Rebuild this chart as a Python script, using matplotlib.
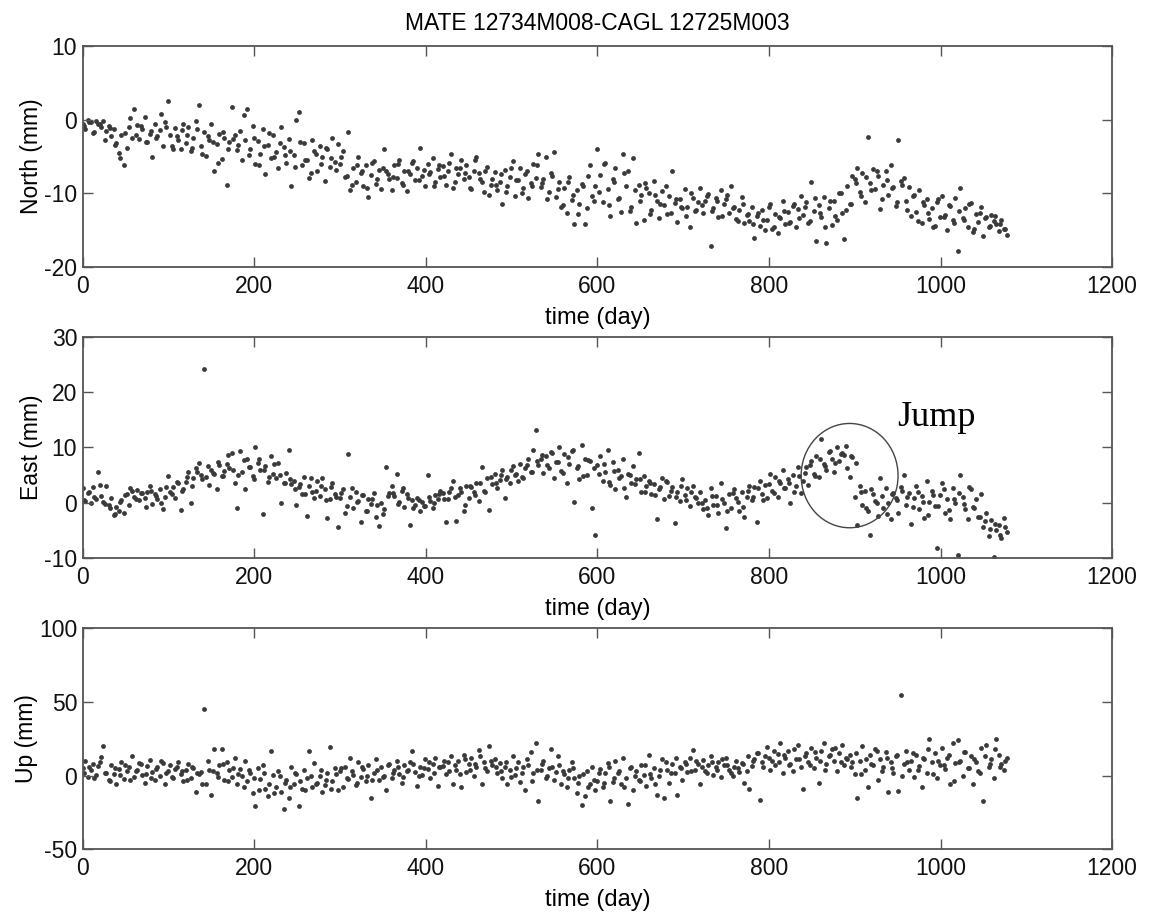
import numpy as np
import matplotlib
matplotlib.use("Agg")
import matplotlib.pyplot as plt
from matplotlib.patches import Ellipse

plt.rcParams['font.family'] = ['Liberation Sans', 'DejaVu Sans']
plt.rcParams['axes.unicode_minus'] = False

# samples: main set every 3 days, extra set every 6 days in between
days = np.arange(0, 1080, 3)
days_b = np.arange(1.5, 1080, 6)

north = [
    -0.5, -1.2, 0.0, -0.3, -1.8, -0.2, -0.6, -1.0, -0.1, -1.5, -0.8, -2.2, -1.3, -3.1, -4.5, -2.0, -6.2, -3.8, -1.0, -2.4,
    1.5, -0.7, -2.6, -1.2, 0.4, -3.0, -1.9, -5.0, -0.5, -2.2, -1.4, -3.5, -0.3, 2.5, -2.0, -3.9, -1.1, -2.8, -4.0, -0.6,
    -3.2, -1.0, -4.3, -2.5, -0.2, 2.0, -3.6, -1.7, -4.9, -2.8, -0.5, -7.0, -3.3, -1.9, -5.3, -2.4, -8.8, -3.0, 1.8, -2.1,
    -4.1, -1.5, -5.4, -2.7, 1.5, -3.9, -0.8, -6.0, -2.9, -4.6, -1.3, -7.4, -3.4, -5.2, -2.0, -4.4, -6.6, -1.0, -3.7, -5.8,
    -2.6, -9.0, -4.8, 0.0, 1.0, -6.2, -3.1, -5.5, -7.9, -2.8, -4.3, -6.9, -3.6, -5.0, -8.3, -4.0, -6.4, -2.4, -5.7, -3.3,
    -6.0, -4.2, -7.8, -1.6, -9.6, -6.5, -8.4, -5.1, -7.2, -9.0, -6.1, -10.5, -7.5, -5.6, -8.7, -6.8, -9.4, -4.0, -7.0, -8.1,
    -9.5, -6.2, -7.9, -5.4, -8.6, -6.9, -9.7, -7.3, -5.8, -8.2, -6.5, -3.8, -7.6, -9.0, -6.0, -7.1, -5.2, -8.4, -6.7, -7.7,
    -6.3, -8.8, -7.0, -4.6, -9.2, -6.6, -7.4, -5.5, -8.0, -6.1, -7.8, -9.4, -6.9, -5.0, -7.2, -8.5, -9.8, -6.4, -10.2, -8.0,
    -7.1, -9.6, -8.4, -11.5, -6.8, -9.0, -7.7, -5.6, -10.4, -8.2, -6.5, -9.3, -7.4, -10.6, -8.6, -6.0, -7.9, -4.6, -9.1, -8.0,
    -5.0, -9.8, -7.2, -4.4, -10.5, -8.5, -11.8, -9.2, -12.6, -7.8, -10.9, -14.2, -9.6, -11.4, -8.7, -14.1, -12.0, -6.2, -10.3, -9.0,
    -4.0, -7.5, -11.2, -5.8, -9.4, -13.0, -8.1, -6.5, -10.7, -12.5, -4.6, -9.0, -7.0, -11.8, -5.2, -14.0, -8.8, -10.2, -13.6, -9.3,
    -10.0, -12.2, -8.3, -11.0, -13.4, -9.7, -11.6, -12.8, -10.4, -7.0, -11.3, -13.9, -10.8, -12.0, -9.4, -11.9, -14.6, -10.6, -12.4, -11.1,
    -9.3, -12.7, -11.0, -10.1, -17.1, -12.0, -10.6, -13.2, -9.6, -11.4, -10.8, -12.6, -9.0, -11.9, -13.5, -12.2, -10.5, -14.0, -12.9, -13.7,
    -11.8, -16.0, -13.0, -14.4, -12.3, -15.0, -13.6, -11.5, -14.8, -12.8, -15.4, -13.3, -11.0, -14.1, -12.5, -13.9, -11.7, -14.6, -12.1, -10.4,
    -12.9, -11.2, -14.0, -8.5, -12.4, -16.4, -11.6, -13.2, -10.5, -16.8, -12.0, -14.3, -11.0, -13.6, -10.0, -12.7, -16.2, -9.0, -11.5, -7.6,
    -8.0, -6.5, -9.8, -7.2, -11.1, -2.3, -8.6, -6.7, -9.4, -7.6, -12.1, -8.9, -7.0, -10.2, -6.1, -9.1, -11.7, -2.8, -8.3, -7.9,
    -11.0, -9.1, -13.0, -10.2, -12.5, -9.6, -14.0, -11.6, -10.8, -13.5, -12.0, -14.4, -11.1, -13.2, -10.4, -12.9, -15.0, -11.7, -13.6, -10.6,
    -17.8, -9.3, -13.4, -12.0, -14.6, -11.3, -15.2, -12.8, -13.9, -11.8, -15.8, -13.2, -14.5, -12.9, -13.7, -14.2, -15.1, -13.6, -14.8, -15.6,
]
north_b = [
    -0.8, -0.3, -1.6, -0.6, -2.8, -1.1, -3.4, -5.2, -1.8, 0.2, -2.0, -0.9, -3.0, -1.5, -2.4, 0.8, -1.0, -3.6, -2.2, -1.4,
    -2.0, -3.8, -1.2, -4.6, -2.2, -3.0, -5.8, -1.6, -4.0, -2.6, -3.4, 0.6, -4.8, -2.4, -6.2, -3.6, -1.8, -5.0, -3.2, -4.8,
    -4.2, -6.4, -3.0, -5.4, -7.2, -4.6, -6.0, -3.8, -5.2, -6.8, -5.0, -7.6, -8.8, -6.2, -7.0, -9.2, -5.8, -8.0, -6.6, -7.4,
    -7.8, -6.0, -8.8, -7.0, -5.6, -8.2, -6.8, -7.4, -9.0, -6.2, -7.6, -5.8, -8.4, -6.6, -7.2, -9.2, -5.4, -8.0, -7.0, -8.8,
    -8.8, -7.4, -9.8, -6.6, -8.2, -10.0, -7.0, -9.0, -6.2, -8.6, -10.8, -7.6, -9.4, -11.6, -8.4, -10.2, -12.8, -9.0, -7.6, -11.0,
    -9.8, -6.0, -11.6, -8.4, -10.6, -7.2, -12.4, -9.6, -11.0, -8.6, -12.8, -10.2, -11.4, -9.0, -12.6, -10.8, -11.8, -13.0, -10.0, -12.2,
    -11.6, -10.4, -12.4, -11.0, -13.0, -10.2, -12.0, -13.8, -11.4, -12.8, -14.2, -12.6, -13.6, -11.8, -14.6, -13.2, -12.4, -14.0, -11.4, -13.4,
    -11.8, -13.8, -10.6, -12.6, -14.6, -11.0, -13.0, -10.0, -12.2, -11.4, -8.6, -10.4, -7.8, -9.6, -7.0, -10.8, -8.2, -9.2, -11.2, -8.8,
    -12.2, -10.4, -13.8, -11.2, -12.6, -14.6, -10.8, -13.2, -11.6, -14.0, -12.4, -13.6, -11.4, -14.8, -12.6, -13.4, -14.4, -13.0, -14.2, -14.8,
]

east = [
    2.6, 0.3, 1.8, 0.0, 2.9, 0.7, 5.6, 1.2, 0.2, 3.0, -0.5, 0.8, -2.2, -0.8, -1.5, 0.5, -1.9, 1.6, -0.4, 2.2,
    1.0, 2.3, 0.4, 1.7, 0.8, 2.0, 3.1, -0.3, 1.5, 0.6, 2.5, -1.2, 1.1, 4.9, 1.9, 2.8, 0.9, 3.6, -1.3, 2.4,
    3.8, 5.5, 0.0, 4.4, 6.3, 7.2, 5.0, 24.2, 4.6, 3.2, 6.0, 5.2, 2.4, 6.8, 4.9, 5.8, 7.0, 6.2, 9.0, 3.5,
    -1.0, 9.3, 5.6, 2.5, 8.0, 6.5, 4.8, 10.0, 7.2, 5.9, -2.0, 6.7, 3.7, 8.5, 5.2, 4.4, 7.1, 0.0, 3.6, 5.3,
    9.5, 3.3, 4.0, -0.5, 2.8, 1.5, 4.7, -2.5, 3.0, 2.0, 0.8, 3.9, 1.2, 4.5, 2.4, -2.8, 0.6, 3.5, 1.6, -4.5,
    0.8, 2.4, -1.8, 8.9, 1.1, -0.9, 2.0, 0.3, -3.5, 1.4, -1.5, 0.6, -0.2, 1.8, -2.6, -4.3, 0.0, -1.1, 6.5, 1.7,
    3.0, 1.2, 5.2, 0.2, 2.2, -0.8, 1.5, -4.0, 0.4, -0.5, 0.9, -1.6, 0.1, -0.6, 5.0, 0.3, -1.0, 1.3, 0.7, 2.2,
    1.8, -3.5, 0.6, 2.6, 4.0, -3.3, 1.4, 2.0, -1.6, 3.1, 0.8, 2.8, 1.9, 3.6, 0.3, 6.4, 2.2, 4.5, -1.3, 3.4,
    5.2, 2.6, 4.1, 6.0, 0.9, 4.7, 3.5, 6.6, 5.0, 3.9, 7.0, 4.4, 6.2, 8.0, 5.6, 9.6, 13.2, 6.8, 7.9, 5.4,
    8.5, 6.2, 9.2, 4.5, 7.4, 10.0, 5.8, 8.8, 3.6, 7.0, 9.4, 0.2, 6.3, 4.2, 10.5, 8.0, 5.0, 7.6, -1.0, -5.8,
    6.8, 8.5, 4.0, 5.6, 9.5, 3.2, 7.3, 2.4, 6.0, 4.8, 8.0, 1.0, 5.2, 3.6, 6.6, 4.2, 9.0, 2.0, 4.8, 3.0,
    4.0, 1.6, 3.3, -3.0, 2.4, 4.5, 0.6, 3.8, 1.2, 2.8, -3.6, 2.0, 0.3, 4.2, 1.4, 2.6, -0.6, 3.1, 1.0, 0.0,
    1.9, -1.2, 0.5, -2.2, 2.6, -0.5, 1.2, -1.8, 3.5, 0.0, -4.6, 1.6, -0.9, 2.4, 0.8, -1.5, 2.0, -2.6, 1.0, 3.0,
    0.4, 2.8, -3.5, 4.0, 1.6, 3.2, 0.8, 5.2, 2.2, 4.6, 1.0, 3.6, 6.0, 2.6, 4.2, 0.0, 5.0, 3.0, 6.5, 1.8,
    4.0, 6.4, 3.2, 7.6, 5.2, 8.5, 4.6, 11.5, 7.0, 6.0, 9.2, 8.0, 5.6, 10.0, 7.6, 9.0, 8.6, 6.2, 4.6, 8.2,
    1.0, -4.0, 3.0, -0.5, 2.2, -1.5, -5.8, 1.6, 0.3, -2.4, 4.5, -0.9, 2.6, 0.0, -3.0, 1.8, 0.8, -1.8, 2.8, 5.0,
    -0.4, 1.8, -3.8, 0.9, 3.0, -1.2, 1.2, -2.8, 4.0, 0.2, 2.2, -0.6, -8.2, 1.4, 3.5, -1.8, 0.6, -3.0, 2.6, 0.0,
    -9.4, 5.0, 1.0, -1.2, -3.0, 2.4, -0.8, 0.6, -2.6, 1.6, -4.5, -1.8, -6.0, -3.2, -9.8, -5.0, -4.0, -6.4, -2.8, -5.4,
]
east_b = [
    0.5, 2.0, 1.0, 3.2, -0.2, -1.0, -2.0, 0.2, 1.4, 2.6, 0.6, 1.8, -0.8, 2.2, 1.2, 0.0, 2.8, 1.6, 3.8, 2.2,
    4.6, 3.0, 5.6, 4.2, 6.6, 5.4, 7.4, 4.8, 8.6, 6.0, 5.0, 7.8, 6.4, 4.2, 8.0, 6.0, 4.6, 7.0, 5.0, 3.6,
    4.2, 2.4, 3.4, 1.6, 4.4, 2.2, 3.0, 0.4, 2.8, 1.0, 1.8, -0.6, 2.6, 0.2, 1.4, -1.6, 0.6, -0.4, -2.0, 1.2,
    1.8, -0.2, 2.6, 0.8, -1.0, 0.4, -0.6, 1.0, 0.0, 1.6, 0.6, 2.0, 1.0, 2.6, -0.4, 3.0, 1.4, 3.6, 2.0, 4.6,
    3.6, 5.0, 4.2, 6.0, 5.2, 4.6, 6.8, 5.6, 7.6, 8.6, 6.8, 9.0, 7.4, 5.4, 8.2, 9.6, 6.6, 4.8, 7.8, 6.2,
    5.2, 7.0, 3.8, 5.8, 4.4, 2.6, 5.0, 3.4, 4.2, 2.0, 3.6, 1.4, 2.8, 4.0, 2.2, 1.0, 3.0, 0.4, 2.0, 0.8,
    0.0, -1.0, 1.2, -0.4, 0.6, -1.6, 1.8, 0.2, -0.8, 2.2, 1.0, 2.6, 0.4, 3.4, 1.8, 4.0, 2.6, 3.6, 2.0, 4.8,
    5.4, 6.8, 4.8, 8.0, 6.6, 9.4, 7.2, 8.8, 10.2, 8.4, 7.2, 2.0, -1.0, 2.4, 0.0, 1.2, -2.0, 1.6, 0.4, 2.2,
    1.0, -0.8, 2.0, 0.2, -2.2, 1.4, -0.6, 2.4, -1.4, 0.6, 1.8, -0.2, 2.8, -1.0, -2.6, -3.4, -4.8, -3.8, -5.8, -4.4,
]

up = [
    5.0, 10.2, -1.0, 3.5, 8.0, 0.2, 6.6, 12.6, 20.0, 2.0, -3.0, 7.4, 1.0, -5.5, 4.2, 9.0, -2.2, 3.0, 6.0, 13.5,
    -1.0, 4.0, 8.5, 0.5, -5.0, 6.4, 10.5, 2.5, -2.8, 5.5, 0.0, 8.6, -6.0, 3.2, 7.0, -1.6, 4.6, 9.5, 0.8, -4.0,
    3.5, 7.6, -2.0, 5.0, -11.0, 0.8, 2.2, 45.0, -5.5, 4.0, -13.0, 18.0, 1.5, 7.5, 18.2, -3.0, 9.0, 3.6, -1.0, 12.0,
    -6.0, 4.5, 0.0, 10.0, -4.0, 2.0, -12.0, -20.5, 5.0, -2.5, 7.5, -9.0, -14.0, 16.5, 0.5, -7.5, 3.0, -11.5, -23.0, -3.0,
    -15.0, 6.0, -6.0, 1.0, -20.5, -9.0, 4.0, -2.0, 16.8, -8.0, 8.5, -5.0, 0.0, -11.0, -6.5, 2.0, 19.5, -3.5, 5.0, -10.0,
    3.0, -8.0, 6.0, -2.5, 12.0, 0.5, -6.5, 9.0, -1.0, 4.5, -4.0, 7.0, -15.5, 2.0, 11.0, -3.0, 5.5, 0.0, -10.0, 8.0,
    -2.0, 4.0, 10.0, 1.0, -5.0, 7.0, 3.0, 9.5, 17.0, 2.5, -7.0, 6.0, 0.5, 11.5, 4.5, -1.5, 8.0, 12.0, -7.0, 5.5,
    6.5, 1.0, 9.0, 13.0, -6.0, 4.0, 10.0, -7.5, 14.0, 2.5, 8.0, 12.0, 0.0, 5.5, 17.5, -6.0, 9.5, 3.0, 20.0, 7.0,
    11.0, 2.0, 8.5, -2.0, 6.0, -6.0, 4.0, 13.0, 0.5, 9.0, -4.5, 5.5, -10.0, 7.0, 16.0, 2.0, 22.0, -17.0, 3.5, 10.0,
    -1.5, 5.0, 18.0, -3.0, 2.5, 7.5, -5.5, 1.0, -8.0, 4.0, 9.0, -2.0, -12.0, 0.0, -20.0, -14.0, 3.0, -6.0, 6.0, -9.5,
    -3.5, 4.5, -8.0, 1.5, 8.5, -17.0, -4.5, 10.0, 2.0, -6.0, 12.0, -1.5, -19.0, 5.5, -9.5, 3.0, -3.0, 7.0, 0.5, -7.0,
    14.0, -2.0, 5.0, -13.0, 0.0, 11.0, -15.0, 3.5, -5.0, 8.0, 1.5, -13.5, 6.0, -3.0, 9.5, 2.5, 12.0, 17.5, 4.0, 8.0,
    -6.0, 10.5, 3.0, 7.0, 13.0, 0.5, 5.5, 9.0, -1.0, 7.5, 12.0, 4.0, 1.5, 6.0, 10.0, 2.5, 8.5, -5.0, 3.0, -9.0,
    6.5, 11.0, 15.0, -16.5, 9.5, 13.0, 19.5, 4.0, 10.0, 7.0, 14.5, 22.0, 1.5, 12.0, 17.0, 8.0, 3.0, 11.5, 21.0, 6.0,
    -9.0, 15.0, 9.0, 19.0, 5.0, 12.0, -5.0, 16.5, 22.0, 8.0, 13.5, 18.0, 10.0, 3.0, 15.0, 20.5, 7.0, 11.0, 14.0, 9.5,
    1.0, -15.0, 10.0, 20.0, 4.0, -8.0, 14.0, 7.0, 18.0, -3.0, 11.0, 6.0, 16.0, -11.0, 9.0, 2.0, 13.0, -10.5, 55.0, 8.0,
    17.0, 4.0, 10.0, -1.0, 14.0, 6.5, -8.0, 11.0, 2.0, 25.0, 9.0, 15.0, -2.0, 7.0, 19.0, 4.5, 12.0, -6.0, 22.0, 8.5,
    24.0, 10.0, 0.0, 16.0, 5.0, 13.0, -6.0, 9.0, 3.0, 19.0, -17.0, 21.0, 6.0, 11.0, -2.0, 25.0, 14.0, 8.0, 4.0, 12.0,
]
up_b = [
    2.0, 6.0, -2.0, 9.0, 1.5, -4.0, 5.0, 0.5, 7.0, -3.0, 3.0, 8.0, 1.0, -2.0, 4.5, 10.0, 2.0, -1.0, 6.0, 3.0,
    -3.0, 6.0, 2.0, -6.0, 10.0, 3.0, -1.0, 8.0, -4.0, 5.0, 1.0, -8.0, 4.0, -2.0, -10.0, 2.0, -6.0, -12.0, 0.0, -5.0,
    -8.0, 2.0, -4.0, -10.0, 0.0, -6.0, 4.0, -3.0, -9.0, 1.0, 5.0, -2.0, 3.0, -5.0, 6.0, 0.0, -3.0, 4.0, -1.0, 7.0,
    2.0, 6.0, -1.0, 4.0, 8.0, 0.0, 5.0, 9.0, 2.0, 6.0, 10.0, 3.0, 7.0, 1.0, 11.0, 4.0, 8.0, 13.0, 5.0, 10.0,
    6.0, 3.0, 9.0, -1.0, 5.0, 2.0, 11.0, -4.0, 4.0, 8.0, 0.0, 6.0, 13.0, 3.0, -2.0, 5.0, -5.0, 1.0, -8.0, -3.0,
    2.0, -5.0, 6.0, -2.0, 3.0, -8.0, 5.0, 0.0, -4.0, 7.0, 1.0, -6.0, 4.0, 9.0, 2.0, 12.0, 5.0, 8.0, 3.0, 10.0,
    6.0, 2.0, 9.0, 4.0, 11.0, 7.0, 0.0, 5.0, 8.0, 13.0, 10.0, 15.0, 6.0, 12.0, 17.0, 9.0, 14.0, 7.0, 18.0, 11.0,
    13.0, 7.0, 16.0, 10.0, 4.0, 14.0, 19.0, 9.0, 12.0, 6.0, 15.0, 1.0, 11.0, 8.0, 17.0, 3.0, 12.0, 5.0, 14.0, 0.0,
    9.0, 15.0, 4.0, 12.0, 18.0, 1.0, 10.0, 7.0, 14.0, -4.0, 9.0, 16.0, 5.0, 11.0, 2.0, 13.0, 8.0, 18.0, 6.0, 10.0,
]

panels = [
    ("North (mm)", north, north_b, (-20, 10), [-20, -10, 0, 10]),
    ("East (mm)", east, east_b, (-10, 30), [-10, 0, 10, 20, 30]),
    ("Up (mm)", up, up_b, (-50, 100), [-50, 0, 50, 100]),
]
x_ticks = [0, 200, 400, 600, 800, 1000, 1200]

fig = plt.figure(figsize=(11.5, 9.16), dpi=100)
bottoms = [0.7085, 0.391, 0.073]
axes = []
for (ylabel, vals, vals_b, ylim, yticks), b in zip(panels, bottoms):
    ax = fig.add_axes([0.072, b, 0.895, 0.241])
    ax.scatter(np.concatenate([days, days_b]), vals + vals_b, s=12,
               color='#3a3a3a', marker='o', linewidths=0)
    ax.set_xlim(0, 1200)
    ax.set_ylim(*ylim)
    ax.set_xticks(x_ticks)
    ax.set_yticks(yticks)
    ax.set_ylabel(ylabel, fontsize=16.5, labelpad=1)
    ax.set_xlabel("time (day)", fontsize=17, labelpad=6)
    ax.tick_params(direction='in', length=7, width=1, colors='#555555',
                   labelcolor='#111111', labelsize=16.5, top=True, right=True)
    ax.tick_params(axis='x', pad=6)
    ax.tick_params(axis='y', pad=4)
    for sp in ax.spines.values():
        sp.set_color('#555555')
        sp.set_linewidth(1.3)
    axes.append(ax)

axes[0].set_title("MATE 12734M008-CAGL 12725M003", fontsize=16.5, pad=12)

# circled jump in the East component
axes[1].add_patch(Ellipse((894, 4.9), 113, 18.9, fill=False, edgecolor='#444444', linewidth=1))
axes[1].text(949, 13.8, "Jump", fontsize=26, family=['Liberation Serif', 'DejaVu Serif'])

fig.savefig("out.png", dpi=100)
